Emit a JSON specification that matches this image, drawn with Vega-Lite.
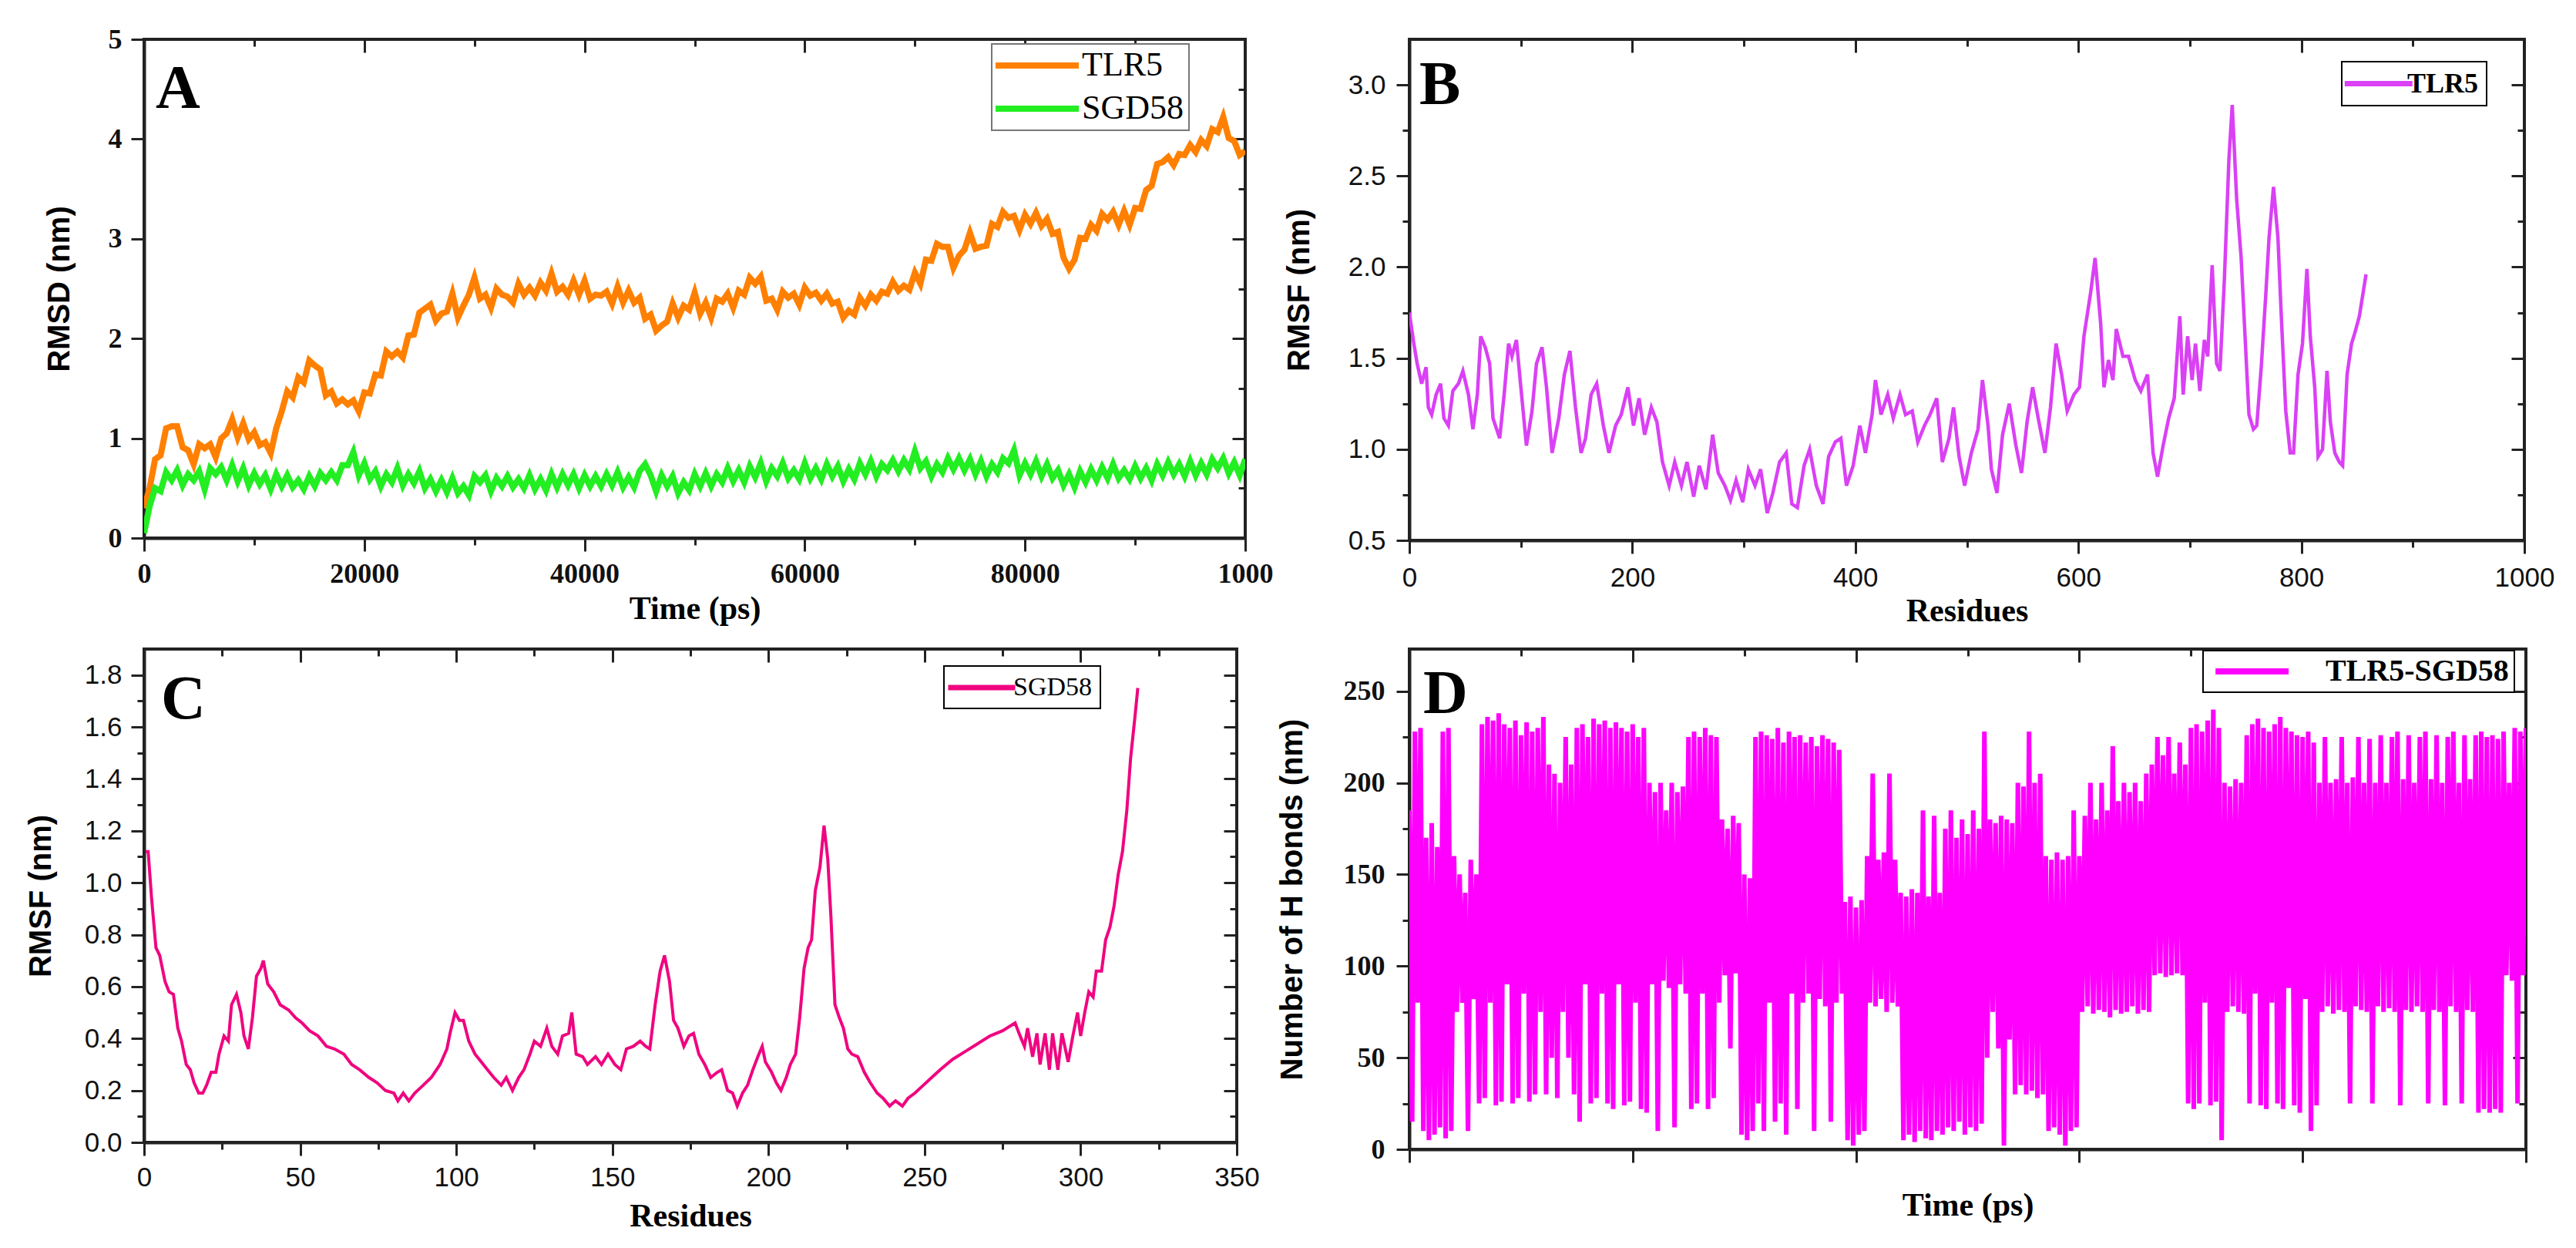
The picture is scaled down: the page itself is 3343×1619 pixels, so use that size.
{
  "$schema": "https://vega.github.io/schema/vega-lite/v6.json",
  "background": "white",
  "padding": {"left": 31, "top": 31, "right": 0, "bottom": 0},
  "datasets": {
    "one": [{"k": 1}],
    "rmsd": [
      {"t":0,"TLR5":0.30,"SGD58":0.05},{"t":500,"TLR5":0.50,"SGD58":0.32},{"t":1000,"TLR5":0.79,"SGD58":0.50},{"t":1500,"TLR5":0.83,"SGD58":0.47},
      {"t":2000,"TLR5":1.10,"SGD58":0.66},{"t":2500,"TLR5":1.12,"SGD58":0.58},{"t":3000,"TLR5":1.12,"SGD58":0.68},{"t":3500,"TLR5":0.91,"SGD58":0.53},
      {"t":4000,"TLR5":0.88,"SGD58":0.64},{"t":4500,"TLR5":0.74,"SGD58":0.58},{"t":5000,"TLR5":0.94,"SGD58":0.67},{"t":5500,"TLR5":0.90,"SGD58":0.49},
      {"t":6000,"TLR5":0.94,"SGD58":0.70},{"t":6500,"TLR5":0.81,"SGD58":0.64},{"t":7000,"TLR5":1.00,"SGD58":0.71},{"t":7500,"TLR5":1.05,"SGD58":0.58},
      {"t":8000,"TLR5":1.19,"SGD58":0.73},{"t":8500,"TLR5":1.01,"SGD58":0.57},{"t":9000,"TLR5":1.15,"SGD58":0.70},{"t":9500,"TLR5":0.99,"SGD58":0.53},
      {"t":10000,"TLR5":1.06,"SGD58":0.65},{"t":10500,"TLR5":0.93,"SGD58":0.54},{"t":11000,"TLR5":0.96,"SGD58":0.63},{"t":11500,"TLR5":0.85,"SGD58":0.49},
      {"t":12000,"TLR5":1.10,"SGD58":0.64},{"t":12500,"TLR5":1.27,"SGD58":0.52},{"t":13000,"TLR5":1.47,"SGD58":0.63},{"t":13500,"TLR5":1.41,"SGD58":0.51},
      {"t":14000,"TLR5":1.61,"SGD58":0.58},{"t":14500,"TLR5":1.56,"SGD58":0.49},{"t":15000,"TLR5":1.78,"SGD58":0.62},{"t":15500,"TLR5":1.73,"SGD58":0.52},
      {"t":16000,"TLR5":1.69,"SGD58":0.65},{"t":16500,"TLR5":1.43,"SGD58":0.58},{"t":17000,"TLR5":1.47,"SGD58":0.66},{"t":17500,"TLR5":1.35,"SGD58":0.58},
      {"t":18000,"TLR5":1.39,"SGD58":0.73},{"t":18500,"TLR5":1.34,"SGD58":0.73},{"t":19000,"TLR5":1.38,"SGD58":0.86},{"t":19500,"TLR5":1.27,"SGD58":0.63},
      {"t":20000,"TLR5":1.46,"SGD58":0.75},{"t":20500,"TLR5":1.45,"SGD58":0.59},{"t":21000,"TLR5":1.64,"SGD58":0.67},{"t":21500,"TLR5":1.63,"SGD58":0.52},
      {"t":22000,"TLR5":1.87,"SGD58":0.64},{"t":22500,"TLR5":1.82,"SGD58":0.56},{"t":23000,"TLR5":1.87,"SGD58":0.70},{"t":23500,"TLR5":1.81,"SGD58":0.53},
      {"t":24000,"TLR5":2.03,"SGD58":0.64},{"t":24500,"TLR5":2.04,"SGD58":0.55},{"t":25000,"TLR5":2.26,"SGD58":0.67},{"t":25500,"TLR5":2.30,"SGD58":0.50},
      {"t":26000,"TLR5":2.34,"SGD58":0.59},{"t":26500,"TLR5":2.18,"SGD58":0.47},{"t":27000,"TLR5":2.25,"SGD58":0.58},{"t":27500,"TLR5":2.27,"SGD58":0.46},
      {"t":28000,"TLR5":2.45,"SGD58":0.60},{"t":28500,"TLR5":2.21,"SGD58":0.45},{"t":29000,"TLR5":2.33,"SGD58":0.52},{"t":29500,"TLR5":2.44,"SGD58":0.43},
      {"t":30000,"TLR5":2.61,"SGD58":0.62},{"t":30500,"TLR5":2.40,"SGD58":0.56},{"t":31000,"TLR5":2.44,"SGD58":0.63},{"t":31500,"TLR5":2.31,"SGD58":0.47},
      {"t":32000,"TLR5":2.50,"SGD58":0.60},{"t":32500,"TLR5":2.44,"SGD58":0.52},{"t":33000,"TLR5":2.42,"SGD58":0.62},{"t":33500,"TLR5":2.36,"SGD58":0.51},
      {"t":34000,"TLR5":2.55,"SGD58":0.59},{"t":34500,"TLR5":2.44,"SGD58":0.50},{"t":35000,"TLR5":2.51,"SGD58":0.63},{"t":35500,"TLR5":2.43,"SGD58":0.49},
      {"t":36000,"TLR5":2.56,"SGD58":0.59},{"t":36500,"TLR5":2.48,"SGD58":0.48},{"t":37000,"TLR5":2.65,"SGD58":0.64},{"t":37500,"TLR5":2.47,"SGD58":0.51},
      {"t":38000,"TLR5":2.52,"SGD58":0.64},{"t":38500,"TLR5":2.44,"SGD58":0.53},{"t":39000,"TLR5":2.58,"SGD58":0.64},{"t":39500,"TLR5":2.44,"SGD58":0.50},
      {"t":40000,"TLR5":2.58,"SGD58":0.63},{"t":40500,"TLR5":2.40,"SGD58":0.52},{"t":41000,"TLR5":2.44,"SGD58":0.62},{"t":41500,"TLR5":2.43,"SGD58":0.52},
      {"t":42000,"TLR5":2.47,"SGD58":0.64},{"t":42500,"TLR5":2.35,"SGD58":0.53},{"t":43000,"TLR5":2.52,"SGD58":0.66},{"t":43500,"TLR5":2.36,"SGD58":0.51},
      {"t":44000,"TLR5":2.48,"SGD58":0.61},{"t":44500,"TLR5":2.36,"SGD58":0.51},{"t":45000,"TLR5":2.41,"SGD58":0.67},{"t":45500,"TLR5":2.20,"SGD58":0.74},
      {"t":46000,"TLR5":2.24,"SGD58":0.63},{"t":46500,"TLR5":2.08,"SGD58":0.47},{"t":47000,"TLR5":2.13,"SGD58":0.63},{"t":47500,"TLR5":2.17,"SGD58":0.52},
      {"t":48000,"TLR5":2.35,"SGD58":0.62},{"t":48500,"TLR5":2.21,"SGD58":0.45},{"t":49000,"TLR5":2.33,"SGD58":0.56},{"t":49500,"TLR5":2.29,"SGD58":0.48},
      {"t":50000,"TLR5":2.46,"SGD58":0.64},{"t":50500,"TLR5":2.25,"SGD58":0.52},{"t":51000,"TLR5":2.36,"SGD58":0.65},{"t":51500,"TLR5":2.21,"SGD58":0.52},
      {"t":52000,"TLR5":2.40,"SGD58":0.64},{"t":52500,"TLR5":2.37,"SGD58":0.56},{"t":53000,"TLR5":2.45,"SGD58":0.70},{"t":53500,"TLR5":2.31,"SGD58":0.57},
      {"t":54000,"TLR5":2.48,"SGD58":0.68},{"t":54500,"TLR5":2.44,"SGD58":0.56},{"t":55000,"TLR5":2.61,"SGD58":0.72},{"t":55500,"TLR5":2.55,"SGD58":0.61},
      {"t":56000,"TLR5":2.62,"SGD58":0.75},{"t":56500,"TLR5":2.38,"SGD58":0.57},{"t":57000,"TLR5":2.40,"SGD58":0.70},{"t":57500,"TLR5":2.29,"SGD58":0.62},
      {"t":58000,"TLR5":2.47,"SGD58":0.75},{"t":58500,"TLR5":2.41,"SGD58":0.60},{"t":59000,"TLR5":2.45,"SGD58":0.68},{"t":59500,"TLR5":2.34,"SGD58":0.59},
      {"t":60000,"TLR5":2.51,"SGD58":0.75},{"t":60500,"TLR5":2.43,"SGD58":0.60},{"t":61000,"TLR5":2.46,"SGD58":0.70},{"t":61500,"TLR5":2.38,"SGD58":0.59},
      {"t":62000,"TLR5":2.45,"SGD58":0.74},{"t":62500,"TLR5":2.35,"SGD58":0.62},{"t":63000,"TLR5":2.37,"SGD58":0.72},{"t":63500,"TLR5":2.21,"SGD58":0.57},
      {"t":64000,"TLR5":2.28,"SGD58":0.69},{"t":64500,"TLR5":2.24,"SGD58":0.59},{"t":65000,"TLR5":2.41,"SGD58":0.75},{"t":65500,"TLR5":2.33,"SGD58":0.64},
      {"t":66000,"TLR5":2.44,"SGD58":0.77},{"t":66500,"TLR5":2.38,"SGD58":0.62},{"t":67000,"TLR5":2.47,"SGD58":0.74},{"t":67500,"TLR5":2.45,"SGD58":0.68},
      {"t":68000,"TLR5":2.57,"SGD58":0.78},{"t":68500,"TLR5":2.48,"SGD58":0.67},{"t":69000,"TLR5":2.53,"SGD58":0.78},{"t":69500,"TLR5":2.49,"SGD58":0.69},
      {"t":70000,"TLR5":2.66,"SGD58":0.87},{"t":70500,"TLR5":2.55,"SGD58":0.70},{"t":71000,"TLR5":2.79,"SGD58":0.77},{"t":71500,"TLR5":2.78,"SGD58":0.62},
      {"t":72000,"TLR5":2.95,"SGD58":0.74},{"t":72500,"TLR5":2.92,"SGD58":0.66},{"t":73000,"TLR5":2.92,"SGD58":0.80},{"t":73500,"TLR5":2.71,"SGD58":0.69},
      {"t":74000,"TLR5":2.83,"SGD58":0.80},{"t":74500,"TLR5":2.89,"SGD58":0.68},{"t":75000,"TLR5":3.06,"SGD58":0.79},{"t":75500,"TLR5":2.90,"SGD58":0.64},
      {"t":76000,"TLR5":2.92,"SGD58":0.77},{"t":76500,"TLR5":2.93,"SGD58":0.62},{"t":77000,"TLR5":3.15,"SGD58":0.74},{"t":77500,"TLR5":3.12,"SGD58":0.66},
      {"t":78000,"TLR5":3.27,"SGD58":0.80},{"t":78500,"TLR5":3.21,"SGD58":0.75},{"t":79000,"TLR5":3.23,"SGD58":0.88},{"t":79500,"TLR5":3.09,"SGD58":0.63},
      {"t":80000,"TLR5":3.24,"SGD58":0.75},{"t":80500,"TLR5":3.15,"SGD58":0.64},{"t":81000,"TLR5":3.26,"SGD58":0.77},{"t":81500,"TLR5":3.13,"SGD58":0.62},
      {"t":82000,"TLR5":3.20,"SGD58":0.74},{"t":82500,"TLR5":3.05,"SGD58":0.60},{"t":83000,"TLR5":3.07,"SGD58":0.68},{"t":83500,"TLR5":2.81,"SGD58":0.53},
      {"t":84000,"TLR5":2.70,"SGD58":0.64},{"t":84500,"TLR5":2.79,"SGD58":0.51},{"t":85000,"TLR5":3.01,"SGD58":0.67},{"t":85500,"TLR5":3.00,"SGD58":0.56},
      {"t":86000,"TLR5":3.14,"SGD58":0.69},{"t":86500,"TLR5":3.08,"SGD58":0.58},{"t":87000,"TLR5":3.25,"SGD58":0.71},{"t":87500,"TLR5":3.19,"SGD58":0.60},
      {"t":88000,"TLR5":3.27,"SGD58":0.74},{"t":88500,"TLR5":3.14,"SGD58":0.60},{"t":89000,"TLR5":3.28,"SGD58":0.68},{"t":89500,"TLR5":3.14,"SGD58":0.59},
      {"t":90000,"TLR5":3.31,"SGD58":0.72},{"t":90500,"TLR5":3.30,"SGD58":0.60},{"t":91000,"TLR5":3.49,"SGD58":0.70},{"t":91500,"TLR5":3.53,"SGD58":0.58},
      {"t":92000,"TLR5":3.75,"SGD58":0.74},{"t":92500,"TLR5":3.77,"SGD58":0.63},{"t":93000,"TLR5":3.82,"SGD58":0.76},{"t":93500,"TLR5":3.74,"SGD58":0.64},
      {"t":94000,"TLR5":3.85,"SGD58":0.74},{"t":94500,"TLR5":3.84,"SGD58":0.62},{"t":95000,"TLR5":3.94,"SGD58":0.77},{"t":95500,"TLR5":3.87,"SGD58":0.63},
      {"t":96000,"TLR5":3.99,"SGD58":0.75},{"t":96500,"TLR5":3.93,"SGD58":0.64},{"t":97000,"TLR5":4.10,"SGD58":0.79},{"t":97500,"TLR5":4.07,"SGD58":0.70},
      {"t":98000,"TLR5":4.22,"SGD58":0.80},{"t":98500,"TLR5":4.01,"SGD58":0.65},{"t":99000,"TLR5":3.98,"SGD58":0.76},{"t":99500,"TLR5":3.84,"SGD58":0.63},
      {"t":100000,"TLR5":3.88,"SGD58":0.79}
    ],
    "rmsfTLR5": [
      {"r":0,"TLR5":1.75},{"r":4,"TLR5":1.58},{"r":7,"TLR5":1.47},{"r":11,"TLR5":1.36},{"r":15,"TLR5":1.45},{"r":17,"TLR5":1.23},{"r":20,"TLR5":1.19},{"r":24,"TLR5":1.30},
      {"r":28,"TLR5":1.36},{"r":31,"TLR5":1.17},{"r":35,"TLR5":1.13},{"r":39,"TLR5":1.32},{"r":44,"TLR5":1.36},{"r":48,"TLR5":1.43},{"r":53,"TLR5":1.30},{"r":57,"TLR5":1.11},
      {"r":61,"TLR5":1.30},{"r":64,"TLR5":1.62},{"r":68,"TLR5":1.56},{"r":72,"TLR5":1.47},{"r":75,"TLR5":1.17},{"r":81,"TLR5":1.06},{"r":85,"TLR5":1.30},{"r":89,"TLR5":1.58},
      {"r":92,"TLR5":1.51},{"r":96,"TLR5":1.60},{"r":100,"TLR5":1.34},{"r":105,"TLR5":1.02},{"r":110,"TLR5":1.21},{"r":114,"TLR5":1.47},{"r":119,"TLR5":1.56},{"r":123,"TLR5":1.34},
      {"r":128,"TLR5":0.98},{"r":134,"TLR5":1.17},{"r":139,"TLR5":1.41},{"r":144,"TLR5":1.54},{"r":149,"TLR5":1.23},{"r":154,"TLR5":0.98},{"r":158,"TLR5":1.06},{"r":163,"TLR5":1.30},
      {"r":168,"TLR5":1.36},{"r":174,"TLR5":1.13},{"r":179,"TLR5":0.98},{"r":185,"TLR5":1.13},{"r":190,"TLR5":1.19},{"r":196,"TLR5":1.34},{"r":201,"TLR5":1.13},{"r":206,"TLR5":1.28},
      {"r":211,"TLR5":1.08},{"r":217,"TLR5":1.23},{"r":222,"TLR5":1.15},{"r":227,"TLR5":0.93},{"r":233,"TLR5":0.80},{"r":238,"TLR5":0.93},{"r":244,"TLR5":0.80},{"r":249,"TLR5":0.93},
      {"r":255,"TLR5":0.74},{"r":260,"TLR5":0.91},{"r":266,"TLR5":0.78},{"r":272,"TLR5":1.08},{"r":277,"TLR5":0.87},{"r":283,"TLR5":0.80},{"r":288,"TLR5":0.72},{"r":293,"TLR5":0.83},
      {"r":299,"TLR5":0.71},{"r":304,"TLR5":0.89},{"r":310,"TLR5":0.80},{"r":315,"TLR5":0.89},{"r":321,"TLR5":0.65},{"r":326,"TLR5":0.76},{"r":332,"TLR5":0.93},{"r":338,"TLR5":0.98},
      {"r":343,"TLR5":0.70},{"r":348,"TLR5":0.68},{"r":354,"TLR5":0.91},{"r":359,"TLR5":1.00},{"r":365,"TLR5":0.80},{"r":371,"TLR5":0.70},{"r":376,"TLR5":0.96},{"r":382,"TLR5":1.04},
      {"r":387,"TLR5":1.06},{"r":392,"TLR5":0.80},{"r":398,"TLR5":0.91},{"r":404,"TLR5":1.13},{"r":409,"TLR5":0.98},{"r":415,"TLR5":1.19},{"r":418,"TLR5":1.38},{"r":423,"TLR5":1.19},
      {"r":429,"TLR5":1.30},{"r":434,"TLR5":1.17},{"r":440,"TLR5":1.30},{"r":445,"TLR5":1.19},{"r":451,"TLR5":1.21},{"r":456,"TLR5":1.04},{"r":462,"TLR5":1.13},{"r":467,"TLR5":1.19},
      {"r":473,"TLR5":1.28},{"r":478,"TLR5":0.93},{"r":484,"TLR5":1.06},{"r":488,"TLR5":1.23},{"r":493,"TLR5":0.96},{"r":498,"TLR5":0.80},{"r":504,"TLR5":0.98},{"r":510,"TLR5":1.11},
      {"r":514,"TLR5":1.38},{"r":519,"TLR5":1.13},{"r":522,"TLR5":0.89},{"r":527,"TLR5":0.76},{"r":532,"TLR5":1.08},{"r":538,"TLR5":1.25},{"r":544,"TLR5":1.02},{"r":549,"TLR5":0.87},
      {"r":554,"TLR5":1.15},{"r":559,"TLR5":1.34},{"r":564,"TLR5":1.17},{"r":570,"TLR5":0.98},{"r":575,"TLR5":1.23},{"r":580,"TLR5":1.58},{"r":585,"TLR5":1.41},{"r":590,"TLR5":1.21},
      {"r":596,"TLR5":1.30},{"r":601,"TLR5":1.34},{"r":605,"TLR5":1.62},{"r":611,"TLR5":1.86},{"r":615,"TLR5":2.05},{"r":620,"TLR5":1.69},{"r":623,"TLR5":1.34},{"r":627,"TLR5":1.49},
      {"r":631,"TLR5":1.38},{"r":634,"TLR5":1.66},{"r":640,"TLR5":1.51},{"r":645,"TLR5":1.51},{"r":651,"TLR5":1.38},{"r":656,"TLR5":1.32},{"r":662,"TLR5":1.41},{"r":667,"TLR5":0.98},
      {"r":671,"TLR5":0.85},{"r":676,"TLR5":1.02},{"r":681,"TLR5":1.17},{"r":686,"TLR5":1.28},{"r":691,"TLR5":1.73},{"r":694,"TLR5":1.30},{"r":698,"TLR5":1.62},{"r":702,"TLR5":1.38},
      {"r":705,"TLR5":1.58},{"r":709,"TLR5":1.32},{"r":713,"TLR5":1.60},{"r":716,"TLR5":1.51},{"r":720,"TLR5":2.01},{"r":724,"TLR5":1.47},{"r":727,"TLR5":1.43},{"r":731,"TLR5":1.94},
      {"r":735,"TLR5":2.59},{"r":738,"TLR5":2.89},{"r":742,"TLR5":2.37},{"r":746,"TLR5":2.05},{"r":749,"TLR5":1.68},{"r":753,"TLR5":1.19},{"r":757,"TLR5":1.11},{"r":760,"TLR5":1.13},
      {"r":764,"TLR5":1.45},{"r":768,"TLR5":1.84},{"r":771,"TLR5":2.16},{"r":775,"TLR5":2.44},{"r":779,"TLR5":2.16},{"r":782,"TLR5":1.73},{"r":786,"TLR5":1.21},{"r":790,"TLR5":0.98},
      {"r":793,"TLR5":0.98},{"r":797,"TLR5":1.41},{"r":801,"TLR5":1.58},{"r":805,"TLR5":1.99},{"r":808,"TLR5":1.62},{"r":812,"TLR5":1.34},{"r":815,"TLR5":0.96},{"r":819,"TLR5":1.00},
      {"r":823,"TLR5":1.43},{"r":826,"TLR5":1.15},{"r":830,"TLR5":0.98},{"r":834,"TLR5":0.93},{"r":837,"TLR5":0.91},{"r":841,"TLR5":1.41},{"r":845,"TLR5":1.58},{"r":848,"TLR5":1.64},
      {"r":852,"TLR5":1.73},{"r":858,"TLR5":1.96}
    ],
    "rmsfSGD58": [
      {"r":0.5,"SGD58":1.12},{"r":1.3,"SGD58":1.12},{"r":2.4,"SGD58":0.94},{"r":3.8,"SGD58":0.75},{"r":5,"SGD58":0.72},{"r":6.7,"SGD58":0.62},{"r":8,"SGD58":0.58},{"r":9.4,"SGD58":0.57},
      {"r":10.8,"SGD58":0.44},{"r":12,"SGD58":0.39},{"r":13.5,"SGD58":0.30},{"r":14.8,"SGD58":0.28},{"r":16,"SGD58":0.23},{"r":17.5,"SGD58":0.19},{"r":18.8,"SGD58":0.19},{"r":20,"SGD58":0.22},
      {"r":21.5,"SGD58":0.27},{"r":23,"SGD58":0.27},{"r":24,"SGD58":0.34},{"r":25.6,"SGD58":0.41},{"r":27,"SGD58":0.39},{"r":28,"SGD58":0.53},{"r":29.6,"SGD58":0.57},{"r":31,"SGD58":0.50},
      {"r":32,"SGD58":0.41},{"r":33.4,"SGD58":0.36},{"r":34.7,"SGD58":0.48},{"r":36,"SGD58":0.64},{"r":37.4,"SGD58":0.67},{"r":38.2,"SGD58":0.70},{"r":39.6,"SGD58":0.61},{"r":41.5,"SGD58":0.58},
      {"r":43.6,"SGD58":0.53},{"r":46.3,"SGD58":0.51},{"r":48.5,"SGD58":0.48},{"r":50.6,"SGD58":0.46},{"r":53,"SGD58":0.43},{"r":55.7,"SGD58":0.41},{"r":58.4,"SGD58":0.37},{"r":61,"SGD58":0.36},
      {"r":64,"SGD58":0.34},{"r":66.5,"SGD58":0.30},{"r":69,"SGD58":0.28},{"r":72,"SGD58":0.25},{"r":74.6,"SGD58":0.23},{"r":77.3,"SGD58":0.20},{"r":80,"SGD58":0.19},{"r":81.3,"SGD58":0.16},
      {"r":83,"SGD58":0.19},{"r":84.8,"SGD58":0.16},{"r":86.7,"SGD58":0.19},{"r":89.4,"SGD58":0.22},{"r":92,"SGD58":0.25},{"r":94.8,"SGD58":0.30},{"r":97,"SGD58":0.36},{"r":98,"SGD58":0.42},
      {"r":99.6,"SGD58":0.50},{"r":101,"SGD58":0.47},{"r":102.3,"SGD58":0.47},{"r":104,"SGD58":0.39},{"r":106,"SGD58":0.34},{"r":108,"SGD58":0.31},{"r":110,"SGD58":0.28},{"r":112,"SGD58":0.25},
      {"r":114.4,"SGD58":0.22},{"r":116,"SGD58":0.25},{"r":118,"SGD58":0.20},{"r":120,"SGD58":0.25},{"r":121.7,"SGD58":0.28},{"r":123.6,"SGD58":0.34},{"r":125,"SGD58":0.39},{"r":127,"SGD58":0.37},
      {"r":129,"SGD58":0.44},{"r":130.6,"SGD58":0.37},{"r":132.5,"SGD58":0.34},{"r":134,"SGD58":0.41},{"r":136,"SGD58":0.42},{"r":137,"SGD58":0.50},{"r":138.4,"SGD58":0.34},{"r":140.5,"SGD58":0.33},
      {"r":142,"SGD58":0.30},{"r":144.6,"SGD58":0.33},{"r":146.5,"SGD58":0.30},{"r":148.6,"SGD58":0.34},{"r":150.8,"SGD58":0.30},{"r":152.7,"SGD58":0.28},{"r":154.5,"SGD58":0.36},{"r":156.7,"SGD58":0.37},
      {"r":158.9,"SGD58":0.39},{"r":160.7,"SGD58":0.37},{"r":162,"SGD58":0.36},{"r":163.7,"SGD58":0.53},{"r":165.3,"SGD58":0.66},{"r":166.7,"SGD58":0.72},{"r":168.3,"SGD58":0.62},{"r":169.6,"SGD58":0.47},
      {"r":171,"SGD58":0.44},{"r":172.9,"SGD58":0.37},{"r":174.5,"SGD58":0.41},{"r":176,"SGD58":0.42},{"r":177.7,"SGD58":0.34},{"r":179.6,"SGD58":0.30},{"r":181.5,"SGD58":0.25},{"r":183.6,"SGD58":0.27},
      {"r":185,"SGD58":0.28},{"r":186.9,"SGD58":0.20},{"r":188.5,"SGD58":0.19},{"r":190,"SGD58":0.14},{"r":191.7,"SGD58":0.19},{"r":193.3,"SGD58":0.22},{"r":195,"SGD58":0.28},{"r":196.6,"SGD58":0.33},
      {"r":198,"SGD58":0.37},{"r":199,"SGD58":0.31},{"r":201,"SGD58":0.27},{"r":202.5,"SGD58":0.23},{"r":204,"SGD58":0.20},{"r":205.7,"SGD58":0.25},{"r":207,"SGD58":0.30},{"r":208.7,"SGD58":0.34},
      {"r":210,"SGD58":0.48},{"r":211.4,"SGD58":0.67},{"r":212.7,"SGD58":0.75},{"r":213.8,"SGD58":0.78},{"r":215,"SGD58":0.97},{"r":216.5,"SGD58":1.06},{"r":217.8,"SGD58":1.22},{"r":219,"SGD58":1.09},
      {"r":220,"SGD58":0.87},{"r":221.3,"SGD58":0.53},{"r":222.7,"SGD58":0.48},{"r":224,"SGD58":0.44},{"r":225.4,"SGD58":0.36},{"r":226.7,"SGD58":0.34},{"r":228.6,"SGD58":0.33},{"r":230.7,"SGD58":0.27},
      {"r":232.6,"SGD58":0.23},{"r":234.8,"SGD58":0.19},{"r":236.7,"SGD58":0.17},{"r":238.8,"SGD58":0.14},{"r":240.7,"SGD58":0.16},{"r":242.9,"SGD58":0.14},{"r":244.7,"SGD58":0.17},{"r":246.9,"SGD58":0.19},
      {"r":249.6,"SGD58":0.22},{"r":252.3,"SGD58":0.25},{"r":255,"SGD58":0.28},{"r":259,"SGD58":0.32},{"r":263,"SGD58":0.35},{"r":267,"SGD58":0.38},{"r":271,"SGD58":0.41},{"r":275,"SGD58":0.43},
      {"r":279,"SGD58":0.46},{"r":280.6,"SGD58":0.41},{"r":282,"SGD58":0.37},{"r":283,"SGD58":0.44},{"r":284.6,"SGD58":0.33},{"r":286,"SGD58":0.42},{"r":287,"SGD58":0.30},{"r":288.6,"SGD58":0.42},
      {"r":290,"SGD58":0.28},{"r":291,"SGD58":0.42},{"r":292.7,"SGD58":0.28},{"r":294,"SGD58":0.42},{"r":296,"SGD58":0.31},{"r":297.5,"SGD58":0.41},{"r":299,"SGD58":0.50},{"r":300,"SGD58":0.41},
      {"r":301.3,"SGD58":0.50},{"r":302.6,"SGD58":0.58},{"r":304,"SGD58":0.56},{"r":305,"SGD58":0.66},{"r":306.7,"SGD58":0.66},{"r":308,"SGD58":0.78},{"r":309.4,"SGD58":0.83},{"r":310.7,"SGD58":0.91},
      {"r":312,"SGD58":1.03},{"r":313.4,"SGD58":1.12},{"r":314.8,"SGD58":1.28},{"r":316,"SGD58":1.48},{"r":317.4,"SGD58":1.64},{"r":318.3,"SGD58":1.75}
    ],
    "hbonds": [
      {"t":0,"TLR5-SGD58":185},{"t":250,"TLR5-SGD58":15},{"t":500,"TLR5-SGD58":228},{"t":750,"TLR5-SGD58":80},{"t":1000,"TLR5-SGD58":230},{"t":1250,"TLR5-SGD58":10},{"t":1500,"TLR5-SGD58":170},{"t":1750,"TLR5-SGD58":5},
      {"t":2000,"TLR5-SGD58":178},{"t":2250,"TLR5-SGD58":8},{"t":2500,"TLR5-SGD58":165},{"t":2750,"TLR5-SGD58":12},{"t":3000,"TLR5-SGD58":228},{"t":3250,"TLR5-SGD58":6},{"t":3500,"TLR5-SGD58":230},{"t":3750,"TLR5-SGD58":10},
      {"t":4000,"TLR5-SGD58":160},{"t":4250,"TLR5-SGD58":75},{"t":4500,"TLR5-SGD58":150},{"t":4750,"TLR5-SGD58":80},{"t":5000,"TLR5-SGD58":140},{"t":5250,"TLR5-SGD58":10},{"t":5500,"TLR5-SGD58":158},{"t":5750,"TLR5-SGD58":82},
      {"t":6000,"TLR5-SGD58":150},{"t":6250,"TLR5-SGD58":25},{"t":6500,"TLR5-SGD58":232},{"t":6750,"TLR5-SGD58":28},{"t":7000,"TLR5-SGD58":236},{"t":7250,"TLR5-SGD58":80},{"t":7500,"TLR5-SGD58":234},{"t":7750,"TLR5-SGD58":24},
      {"t":8000,"TLR5-SGD58":238},{"t":8250,"TLR5-SGD58":26},{"t":8500,"TLR5-SGD58":232},{"t":8750,"TLR5-SGD58":90},{"t":9000,"TLR5-SGD58":230},{"t":9250,"TLR5-SGD58":25},{"t":9500,"TLR5-SGD58":234},{"t":9750,"TLR5-SGD58":28},
      {"t":10000,"TLR5-SGD58":226},{"t":10250,"TLR5-SGD58":85},{"t":10500,"TLR5-SGD58":233},{"t":10750,"TLR5-SGD58":26},{"t":11000,"TLR5-SGD58":228},{"t":11250,"TLR5-SGD58":30},{"t":11500,"TLR5-SGD58":230},{"t":11750,"TLR5-SGD58":75},
      {"t":12000,"TLR5-SGD58":236},{"t":12250,"TLR5-SGD58":30},{"t":12500,"TLR5-SGD58":210},{"t":12750,"TLR5-SGD58":50},{"t":13000,"TLR5-SGD58":205},{"t":13250,"TLR5-SGD58":28},{"t":13500,"TLR5-SGD58":200},{"t":13750,"TLR5-SGD58":75},
      {"t":14000,"TLR5-SGD58":225},{"t":14250,"TLR5-SGD58":50},{"t":14500,"TLR5-SGD58":210},{"t":14750,"TLR5-SGD58":30},{"t":15000,"TLR5-SGD58":230},{"t":15250,"TLR5-SGD58":15},{"t":15500,"TLR5-SGD58":232},{"t":15750,"TLR5-SGD58":90},
      {"t":16000,"TLR5-SGD58":225},{"t":16250,"TLR5-SGD58":25},{"t":16500,"TLR5-SGD58":235},{"t":16750,"TLR5-SGD58":28},{"t":17000,"TLR5-SGD58":232},{"t":17250,"TLR5-SGD58":85},{"t":17500,"TLR5-SGD58":234},{"t":17750,"TLR5-SGD58":25},
      {"t":18000,"TLR5-SGD58":230},{"t":18250,"TLR5-SGD58":22},{"t":18500,"TLR5-SGD58":233},{"t":18750,"TLR5-SGD58":90},{"t":19000,"TLR5-SGD58":230},{"t":19250,"TLR5-SGD58":24},{"t":19500,"TLR5-SGD58":228},{"t":19750,"TLR5-SGD58":26},
      {"t":20000,"TLR5-SGD58":232},{"t":20250,"TLR5-SGD58":80},{"t":20500,"TLR5-SGD58":225},{"t":20750,"TLR5-SGD58":22},{"t":21000,"TLR5-SGD58":230},{"t":21250,"TLR5-SGD58":20},{"t":21500,"TLR5-SGD58":200},{"t":21750,"TLR5-SGD58":90},
      {"t":22000,"TLR5-SGD58":195},{"t":22250,"TLR5-SGD58":10},{"t":22500,"TLR5-SGD58":200},{"t":22750,"TLR5-SGD58":92},{"t":23000,"TLR5-SGD58":185},{"t":23250,"TLR5-SGD58":88},{"t":23500,"TLR5-SGD58":200},{"t":23750,"TLR5-SGD58":12},
      {"t":24000,"TLR5-SGD58":195},{"t":24250,"TLR5-SGD58":90},{"t":24500,"TLR5-SGD58":198},{"t":24750,"TLR5-SGD58":85},{"t":25000,"TLR5-SGD58":225},{"t":25250,"TLR5-SGD58":22},{"t":25500,"TLR5-SGD58":228},{"t":25750,"TLR5-SGD58":25},
      {"t":26000,"TLR5-SGD58":225},{"t":26250,"TLR5-SGD58":85},{"t":26500,"TLR5-SGD58":230},{"t":26750,"TLR5-SGD58":22},{"t":27000,"TLR5-SGD58":226},{"t":27250,"TLR5-SGD58":28},{"t":27500,"TLR5-SGD58":225},{"t":27750,"TLR5-SGD58":80},
      {"t":28000,"TLR5-SGD58":180},{"t":28250,"TLR5-SGD58":95},{"t":28500,"TLR5-SGD58":175},{"t":28750,"TLR5-SGD58":55},{"t":29000,"TLR5-SGD58":182},{"t":29250,"TLR5-SGD58":96},{"t":29500,"TLR5-SGD58":178},{"t":29750,"TLR5-SGD58":8},
      {"t":30000,"TLR5-SGD58":150},{"t":30250,"TLR5-SGD58":5},{"t":30500,"TLR5-SGD58":148},{"t":30750,"TLR5-SGD58":10},{"t":31000,"TLR5-SGD58":225},{"t":31250,"TLR5-SGD58":25},{"t":31500,"TLR5-SGD58":228},{"t":31750,"TLR5-SGD58":10},
      {"t":32000,"TLR5-SGD58":226},{"t":32250,"TLR5-SGD58":80},{"t":32500,"TLR5-SGD58":224},{"t":32750,"TLR5-SGD58":15},{"t":33000,"TLR5-SGD58":230},{"t":33250,"TLR5-SGD58":25},{"t":33500,"TLR5-SGD58":222},{"t":33750,"TLR5-SGD58":8},
      {"t":34000,"TLR5-SGD58":228},{"t":34250,"TLR5-SGD58":85},{"t":34500,"TLR5-SGD58":225},{"t":34750,"TLR5-SGD58":22},{"t":35000,"TLR5-SGD58":226},{"t":35250,"TLR5-SGD58":80},{"t":35500,"TLR5-SGD58":222},{"t":35750,"TLR5-SGD58":85},
      {"t":36000,"TLR5-SGD58":225},{"t":36250,"TLR5-SGD58":10},{"t":36500,"TLR5-SGD58":220},{"t":36750,"TLR5-SGD58":82},{"t":37000,"TLR5-SGD58":226},{"t":37250,"TLR5-SGD58":78},{"t":37500,"TLR5-SGD58":224},{"t":37750,"TLR5-SGD58":15},
      {"t":38000,"TLR5-SGD58":222},{"t":38250,"TLR5-SGD58":80},{"t":38500,"TLR5-SGD58":218},{"t":38750,"TLR5-SGD58":85},{"t":39000,"TLR5-SGD58":135},{"t":39250,"TLR5-SGD58":5},{"t":39500,"TLR5-SGD58":138},{"t":39750,"TLR5-SGD58":2},
      {"t":40000,"TLR5-SGD58":132},{"t":40250,"TLR5-SGD58":8},{"t":40500,"TLR5-SGD58":136},{"t":40750,"TLR5-SGD58":10},{"t":41000,"TLR5-SGD58":160},{"t":41250,"TLR5-SGD58":80},{"t":41500,"TLR5-SGD58":205},{"t":41750,"TLR5-SGD58":78},
      {"t":42000,"TLR5-SGD58":158},{"t":42250,"TLR5-SGD58":82},{"t":42500,"TLR5-SGD58":162},{"t":42750,"TLR5-SGD58":75},{"t":43000,"TLR5-SGD58":205},{"t":43250,"TLR5-SGD58":80},{"t":43500,"TLR5-SGD58":158},{"t":43750,"TLR5-SGD58":78},
      {"t":44000,"TLR5-SGD58":140},{"t":44250,"TLR5-SGD58":5},{"t":44500,"TLR5-SGD58":138},{"t":44750,"TLR5-SGD58":8},{"t":45000,"TLR5-SGD58":142},{"t":45250,"TLR5-SGD58":4},{"t":45500,"TLR5-SGD58":140},{"t":45750,"TLR5-SGD58":10},
      {"t":46000,"TLR5-SGD58":185},{"t":46250,"TLR5-SGD58":6},{"t":46500,"TLR5-SGD58":138},{"t":46750,"TLR5-SGD58":5},{"t":47000,"TLR5-SGD58":182},{"t":47250,"TLR5-SGD58":10},{"t":47500,"TLR5-SGD58":140},{"t":47750,"TLR5-SGD58":8},
      {"t":48000,"TLR5-SGD58":175},{"t":48250,"TLR5-SGD58":12},{"t":48500,"TLR5-SGD58":185},{"t":48750,"TLR5-SGD58":10},{"t":49000,"TLR5-SGD58":170},{"t":49250,"TLR5-SGD58":15},{"t":49500,"TLR5-SGD58":180},{"t":49750,"TLR5-SGD58":8},
      {"t":50000,"TLR5-SGD58":172},{"t":50250,"TLR5-SGD58":12},{"t":50500,"TLR5-SGD58":185},{"t":50750,"TLR5-SGD58":10},{"t":51000,"TLR5-SGD58":175},{"t":51250,"TLR5-SGD58":14},{"t":51500,"TLR5-SGD58":228},{"t":51750,"TLR5-SGD58":50},
      {"t":52000,"TLR5-SGD58":180},{"t":52250,"TLR5-SGD58":75},{"t":52500,"TLR5-SGD58":178},{"t":52750,"TLR5-SGD58":55},{"t":53000,"TLR5-SGD58":182},{"t":53250,"TLR5-SGD58":2},{"t":53500,"TLR5-SGD58":180},{"t":53750,"TLR5-SGD58":60},
      {"t":54000,"TLR5-SGD58":178},{"t":54250,"TLR5-SGD58":30},{"t":54500,"TLR5-SGD58":200},{"t":54750,"TLR5-SGD58":35},{"t":55000,"TLR5-SGD58":198},{"t":55250,"TLR5-SGD58":30},{"t":55500,"TLR5-SGD58":228},{"t":55750,"TLR5-SGD58":32},
      {"t":56000,"TLR5-SGD58":200},{"t":56250,"TLR5-SGD58":28},{"t":56500,"TLR5-SGD58":205},{"t":56750,"TLR5-SGD58":30},{"t":57000,"TLR5-SGD58":160},{"t":57250,"TLR5-SGD58":10},{"t":57500,"TLR5-SGD58":158},{"t":57750,"TLR5-SGD58":12},
      {"t":58000,"TLR5-SGD58":162},{"t":58250,"TLR5-SGD58":8},{"t":58500,"TLR5-SGD58":158},{"t":58750,"TLR5-SGD58":2},{"t":59000,"TLR5-SGD58":160},{"t":59250,"TLR5-SGD58":10},{"t":59500,"TLR5-SGD58":185},{"t":59750,"TLR5-SGD58":12},
      {"t":60000,"TLR5-SGD58":160},{"t":60250,"TLR5-SGD58":75},{"t":60500,"TLR5-SGD58":182},{"t":60750,"TLR5-SGD58":78},{"t":61000,"TLR5-SGD58":200},{"t":61250,"TLR5-SGD58":74},{"t":61500,"TLR5-SGD58":180},{"t":61750,"TLR5-SGD58":76},
      {"t":62000,"TLR5-SGD58":200},{"t":62250,"TLR5-SGD58":75},{"t":62500,"TLR5-SGD58":185},{"t":62750,"TLR5-SGD58":72},{"t":63000,"TLR5-SGD58":220},{"t":63250,"TLR5-SGD58":76},{"t":63500,"TLR5-SGD58":190},{"t":63750,"TLR5-SGD58":74},
      {"t":64000,"TLR5-SGD58":200},{"t":64250,"TLR5-SGD58":75},{"t":64500,"TLR5-SGD58":195},{"t":64750,"TLR5-SGD58":78},{"t":65000,"TLR5-SGD58":200},{"t":65250,"TLR5-SGD58":74},{"t":65500,"TLR5-SGD58":190},{"t":65750,"TLR5-SGD58":76},
      {"t":66000,"TLR5-SGD58":205},{"t":66250,"TLR5-SGD58":75},{"t":66500,"TLR5-SGD58":210},{"t":66750,"TLR5-SGD58":95},{"t":67000,"TLR5-SGD58":225},{"t":67250,"TLR5-SGD58":96},{"t":67500,"TLR5-SGD58":215},{"t":67750,"TLR5-SGD58":94},
      {"t":68000,"TLR5-SGD58":225},{"t":68250,"TLR5-SGD58":95},{"t":68500,"TLR5-SGD58":205},{"t":68750,"TLR5-SGD58":96},{"t":69000,"TLR5-SGD58":222},{"t":69250,"TLR5-SGD58":95},{"t":69500,"TLR5-SGD58":210},{"t":69750,"TLR5-SGD58":25},
      {"t":70000,"TLR5-SGD58":230},{"t":70250,"TLR5-SGD58":22},{"t":70500,"TLR5-SGD58":232},{"t":70750,"TLR5-SGD58":25},{"t":71000,"TLR5-SGD58":228},{"t":71250,"TLR5-SGD58":80},{"t":71500,"TLR5-SGD58":234},{"t":71750,"TLR5-SGD58":24},
      {"t":72000,"TLR5-SGD58":240},{"t":72250,"TLR5-SGD58":26},{"t":72500,"TLR5-SGD58":230},{"t":72750,"TLR5-SGD58":5},{"t":73000,"TLR5-SGD58":200},{"t":73250,"TLR5-SGD58":75},{"t":73500,"TLR5-SGD58":198},{"t":73750,"TLR5-SGD58":78},
      {"t":74000,"TLR5-SGD58":202},{"t":74250,"TLR5-SGD58":75},{"t":74500,"TLR5-SGD58":200},{"t":74750,"TLR5-SGD58":74},{"t":75000,"TLR5-SGD58":226},{"t":75250,"TLR5-SGD58":25},{"t":75500,"TLR5-SGD58":232},{"t":75750,"TLR5-SGD58":85},
      {"t":76000,"TLR5-SGD58":235},{"t":76250,"TLR5-SGD58":24},{"t":76500,"TLR5-SGD58":230},{"t":76750,"TLR5-SGD58":22},{"t":77000,"TLR5-SGD58":228},{"t":77250,"TLR5-SGD58":80},{"t":77500,"TLR5-SGD58":232},{"t":77750,"TLR5-SGD58":25},
      {"t":78000,"TLR5-SGD58":236},{"t":78250,"TLR5-SGD58":22},{"t":78500,"TLR5-SGD58":230},{"t":78750,"TLR5-SGD58":88},{"t":79000,"TLR5-SGD58":228},{"t":79250,"TLR5-SGD58":24},{"t":79500,"TLR5-SGD58":226},{"t":79750,"TLR5-SGD58":20},
      {"t":80000,"TLR5-SGD58":225},{"t":80250,"TLR5-SGD58":82},{"t":80500,"TLR5-SGD58":228},{"t":80750,"TLR5-SGD58":10},{"t":81000,"TLR5-SGD58":222},{"t":81250,"TLR5-SGD58":24},{"t":81500,"TLR5-SGD58":200},{"t":81750,"TLR5-SGD58":75},
      {"t":82000,"TLR5-SGD58":225},{"t":82250,"TLR5-SGD58":78},{"t":82500,"TLR5-SGD58":200},{"t":82750,"TLR5-SGD58":74},{"t":83000,"TLR5-SGD58":202},{"t":83250,"TLR5-SGD58":76},{"t":83500,"TLR5-SGD58":225},{"t":83750,"TLR5-SGD58":75},
      {"t":84000,"TLR5-SGD58":200},{"t":84250,"TLR5-SGD58":25},{"t":84500,"TLR5-SGD58":203},{"t":84750,"TLR5-SGD58":78},{"t":85000,"TLR5-SGD58":225},{"t":85250,"TLR5-SGD58":76},{"t":85500,"TLR5-SGD58":200},{"t":85750,"TLR5-SGD58":75},
      {"t":86000,"TLR5-SGD58":224},{"t":86250,"TLR5-SGD58":25},{"t":86500,"TLR5-SGD58":200},{"t":86750,"TLR5-SGD58":78},{"t":87000,"TLR5-SGD58":226},{"t":87250,"TLR5-SGD58":75},{"t":87500,"TLR5-SGD58":200},{"t":87750,"TLR5-SGD58":77},
      {"t":88000,"TLR5-SGD58":225},{"t":88250,"TLR5-SGD58":75},{"t":88500,"TLR5-SGD58":228},{"t":88750,"TLR5-SGD58":24},{"t":89000,"TLR5-SGD58":202},{"t":89250,"TLR5-SGD58":76},{"t":89500,"TLR5-SGD58":226},{"t":89750,"TLR5-SGD58":75},
      {"t":90000,"TLR5-SGD58":200},{"t":90250,"TLR5-SGD58":78},{"t":90500,"TLR5-SGD58":225},{"t":90750,"TLR5-SGD58":75},{"t":91000,"TLR5-SGD58":228},{"t":91250,"TLR5-SGD58":25},{"t":91500,"TLR5-SGD58":202},{"t":91750,"TLR5-SGD58":76},
      {"t":92000,"TLR5-SGD58":226},{"t":92250,"TLR5-SGD58":75},{"t":92500,"TLR5-SGD58":200},{"t":92750,"TLR5-SGD58":24},{"t":93000,"TLR5-SGD58":225},{"t":93250,"TLR5-SGD58":78},{"t":93500,"TLR5-SGD58":228},{"t":93750,"TLR5-SGD58":75},
      {"t":94000,"TLR5-SGD58":200},{"t":94250,"TLR5-SGD58":25},{"t":94500,"TLR5-SGD58":226},{"t":94750,"TLR5-SGD58":76},{"t":95000,"TLR5-SGD58":202},{"t":95250,"TLR5-SGD58":75},{"t":95500,"TLR5-SGD58":226},{"t":95750,"TLR5-SGD58":20},
      {"t":96000,"TLR5-SGD58":228},{"t":96250,"TLR5-SGD58":22},{"t":96500,"TLR5-SGD58":225},{"t":96750,"TLR5-SGD58":20},{"t":97000,"TLR5-SGD58":226},{"t":97250,"TLR5-SGD58":22},{"t":97500,"TLR5-SGD58":224},{"t":97750,"TLR5-SGD58":20},
      {"t":98000,"TLR5-SGD58":228},{"t":98250,"TLR5-SGD58":95},{"t":98500,"TLR5-SGD58":200},{"t":98750,"TLR5-SGD58":92},{"t":99000,"TLR5-SGD58":230},{"t":99250,"TLR5-SGD58":25},{"t":99500,"TLR5-SGD58":228},{"t":99750,"TLR5-SGD58":95},
      {"t":100000,"TLR5-SGD58":230}
    ]
  },
  "columns": 2,
  "spacing": {"row": 141, "column": 213},
  "bounds": "flush",
  "resolve": {"scale": {"color": "independent"}, "legend": {"color": "independent"}},
  "concat": [
    {
      "width": 1429,
      "height": 647,
      "layer": [
        {
          "data": {"name": "rmsd"},
          "transform": [{"fold": ["TLR5", "SGD58"], "as": ["series", "rmsd"]}],
          "mark": {"type": "line", "strokeWidth": 8, "clip": true},
          "encoding": {
            "x": {
              "field": "t", "type": "quantitative",
              "scale": {"domain": [0, 100000], "nice": false},
              "axis": {
                "orient": "bottom",
                "values": [0, 10000, 20000, 30000, 40000, 50000, 60000, 70000, 80000, 90000, 100000],
                "format": "d",
                "labelExpr": "datum.value === 100000 ? '1000' : (datum.value % 20000 === 0 ? datum.label : '')",
                "tickSize": {"condition": {"test": "datum.value % 20000 === 0", "value": 17}, "value": 9},
                "labelFont": "Liberation Serif", "labelFontWeight": "bold", "labelFontSize": 36, "labelPadding": 12,
                "title": "Time (ps)", "titleFont": "Liberation Serif", "titleFontSize": 42, "titlePadding": 7
              }
            },
            "y": {
              "field": "rmsd", "type": "quantitative",
              "scale": {"domain": [0, 5], "nice": false},
              "axis": {
                "orient": "left",
                "values": [0, 0.5, 1, 1.5, 2, 2.5, 3, 3.5, 4, 4.5, 5],
                "format": "d",
                "labelExpr": "datum.value % 1 === 0 ? datum.label : ''",
                "tickSize": {"condition": {"test": "datum.value % 1 === 0", "value": 17}, "value": 9},
                "labelFont": "Liberation Serif", "labelFontWeight": "bold", "labelFontSize": 36, "labelPadding": 12,
                "title": "RMSD (nm)", "titleFont": "Liberation Sans", "titleFontSize": 40, "titlePadding": 43
              }
            },
            "color": {
              "field": "series", "type": "nominal",
              "scale": {"domain": ["TLR5", "SGD58"], "range": ["#FF8000", "#22EE22"]},
              "legend": {
                "orient": "none", "legendX": 1100, "legendY": 6, "title": null,
                "direction": "vertical", "columns": 1,
                "symbolType": "M-1,0L5,0", "symbolSize": 1296, "symbolStrokeWidth": 8, "symbolOffset": -5,
                "labelFont": "Liberation Serif", "labelFontSize": 44, "labelColor": "black", "labelOffset": 72, "labelLimit": 0,
                "rowPadding": 12, "padding": 6, "strokeColor": "#777", "fillColor": "white"
              }
            }
          }
        },
        {
          "data": {"name": "one"},
          "mark": {"type": "text", "font": "Liberation Serif", "fontWeight": "bold", "fontSize": 80, "align": "left", "baseline": "alphabetic", "color": "black"},
          "encoding": {
            "x": {
              "datum": 1050, "type": "quantitative",
              "scale": {"domain": [0, 100000], "nice": false},
              "axis": {"orient": "top", "labels": false, "title": null, "domain": false, "offset": -17, "tickSize": 17,
                "values": [0, 20000, 40000, 60000, 80000, 100000]}
            },
            "y": {
              "datum": 4.312, "type": "quantitative",
              "scale": {"domain": [0, 5], "nice": false},
              "axis": {"orient": "right", "labels": false, "title": null, "domain": false, "offset": -17, "tickSize": 17,
                "values": [0, 1, 2, 3, 4, 5]}
            },
            "text": {"value": "A"}
          }
        },
        {
          "data": {"name": "one"},
          "mark": {"type": "text", "opacity": 0},
          "encoding": {
            "x": {
              "datum": 50000, "type": "quantitative",
              "scale": {"domain": [0, 100000], "nice": false},
              "axis": {"orient": "top", "labels": false, "title": null, "domain": false, "offset": -9, "tickSize": 9,
                "values": [10000, 30000, 50000, 70000, 90000]}
            },
            "y": {
              "datum": 2.5, "type": "quantitative",
              "scale": {"domain": [0, 5], "nice": false},
              "axis": {"orient": "right", "labels": false, "title": null, "domain": false, "offset": -9, "tickSize": 9,
                "values": [0.5, 1.5, 2.5, 3.5, 4.5]}
            },
            "text": {"value": ""}
          }
        }
      ],
      "resolve": {"axis": {"x": "independent", "y": "independent"}}
    },
    {
      "width": 1447,
      "height": 650,
      "layer": [
        {
          "data": {"name": "rmsfTLR5"},
          "transform": [{"fold": ["TLR5"], "as": ["series", "rmsf"]}],
          "mark": {"type": "line", "strokeWidth": 4.5, "clip": true},
          "encoding": {
            "x": {
              "field": "r", "type": "quantitative",
              "scale": {"domain": [0, 1000], "nice": false},
              "axis": {
                "orient": "bottom",
                "values": [0, 100, 200, 300, 400, 500, 600, 700, 800, 900, 1000],
                "format": "d",
                "labelExpr": "datum.value % 200 === 0 ? datum.label : ''",
                "tickSize": {"condition": {"test": "datum.value % 200 === 0", "value": 17}, "value": 9},
                "labelFont": "Liberation Sans", "labelFontSize": 35, "labelPadding": 14,
                "title": "Residues", "titleFont": "Liberation Serif", "titleFontSize": 42, "titlePadding": 5
              }
            },
            "y": {
              "field": "rmsf", "type": "quantitative",
              "scale": {"domain": [0.5, 3.25], "nice": false, "zero": false},
              "axis": {
                "orient": "left",
                "values": [0.5, 0.75, 1, 1.25, 1.5, 1.75, 2, 2.25, 2.5, 2.75, 3],
                "format": ".1f",
                "labelExpr": "(datum.value * 2) % 1 === 0 ? datum.label : ''",
                "tickSize": {"condition": {"test": "(datum.value * 2) % 1 === 0", "value": 17}, "value": 9},
                "labelFont": "Liberation Sans", "labelFontSize": 35, "labelPadding": 14,
                "title": "RMSF (nm)", "titleFont": "Liberation Sans", "titleFontSize": 40, "titlePadding": 43
              }
            },
            "color": {
              "field": "series", "type": "nominal",
              "scale": {"domain": ["TLR5"], "range": ["#DA40F5"]},
              "legend": {
                "orient": "none", "legendX": 1210, "legendY": 29, "title": null,
                "symbolType": "M-1,0L5,0", "symbolSize": 860, "symbolStrokeWidth": 7, "symbolOffset": -10,
                "labelFont": "Liberation Serif", "labelFontWeight": "bold", "labelFontSize": 36, "labelColor": "black", "labelOffset": 48, "labelLimit": 0,
                "padding": 10, "strokeColor": "black", "fillColor": "white"
              }
            }
          }
        },
        {
          "data": {"name": "one"},
          "mark": {"type": "text", "font": "Liberation Serif", "fontWeight": "bold", "fontSize": 80, "align": "left", "baseline": "alphabetic", "color": "black"},
          "encoding": {
            "x": {
              "datum": 9, "type": "quantitative",
              "scale": {"domain": [0, 1000], "nice": false},
              "axis": {"orient": "top", "labels": false, "title": null, "domain": false, "offset": -17, "tickSize": 17,
                "values": [0, 200, 400, 600, 800, 1000]}
            },
            "y": {
              "datum": 2.895, "type": "quantitative",
              "scale": {"domain": [0.5, 3.25], "nice": false, "zero": false},
              "axis": {"orient": "right", "labels": false, "title": null, "domain": false, "offset": -17, "tickSize": 17,
                "values": [0.5, 1, 1.5, 2, 2.5, 3]}
            },
            "text": {"value": "B"}
          }
        },
        {
          "data": {"name": "one"},
          "mark": {"type": "text", "opacity": 0},
          "encoding": {
            "x": {
              "datum": 500, "type": "quantitative",
              "scale": {"domain": [0, 1000], "nice": false},
              "axis": {"orient": "top", "labels": false, "title": null, "domain": false, "offset": -9, "tickSize": 9,
                "values": [100, 300, 500, 700, 900]}
            },
            "y": {
              "datum": 2, "type": "quantitative",
              "scale": {"domain": [0.5, 3.25], "nice": false, "zero": false},
              "axis": {"orient": "right", "labels": false, "title": null, "domain": false, "offset": -9, "tickSize": 9,
                "values": [0.75, 1.25, 1.75, 2.25, 2.75]}
            },
            "text": {"value": ""}
          }
        }
      ],
      "resolve": {"axis": {"x": "independent", "y": "independent"}}
    },
    {
      "width": 1418,
      "height": 640,
      "layer": [
        {
          "data": {"name": "rmsfSGD58"},
          "transform": [{"fold": ["SGD58"], "as": ["series", "rmsf"]}],
          "mark": {"type": "line", "strokeWidth": 4, "clip": true},
          "encoding": {
            "x": {
              "field": "r", "type": "quantitative",
              "scale": {"domain": [0, 350], "nice": false},
              "axis": {
                "orient": "bottom",
                "values": [0, 25, 50, 75, 100, 125, 150, 175, 200, 225, 250, 275, 300, 325, 350],
                "format": "d",
                "labelExpr": "datum.value % 50 === 0 ? datum.label : ''",
                "tickSize": {"condition": {"test": "datum.value % 50 === 0", "value": 17}, "value": 9},
                "labelFont": "Liberation Sans", "labelFontSize": 35, "labelPadding": 11,
                "title": "Residues", "titleFont": "Liberation Serif", "titleFontSize": 42, "titlePadding": 12
              }
            },
            "y": {
              "field": "rmsf", "type": "quantitative",
              "scale": {"domain": [0, 1.9], "nice": false},
              "axis": {
                "orient": "left",
                "values": [0, 0.1, 0.2, 0.3, 0.4, 0.5, 0.6, 0.7, 0.8, 0.9, 1, 1.1, 1.2, 1.3, 1.4, 1.5, 1.6, 1.7, 1.8],
                "format": ".1f",
                "labelExpr": "round(datum.value * 10) % 2 === 0 ? datum.label : ''",
                "tickSize": {"condition": {"test": "round(datum.value * 10) % 2 === 0", "value": 17}, "value": 9},
                "labelFont": "Liberation Sans", "labelFontSize": 35, "labelPadding": 12,
                "title": "RMSF (nm)", "titleFont": "Liberation Sans", "titleFontSize": 40, "titlePadding": 36
              }
            },
            "color": {
              "field": "series", "type": "nominal",
              "scale": {"domain": ["SGD58"], "range": ["#F0047F"]},
              "legend": {
                "orient": "none", "legendX": 1038, "legendY": 22, "title": null,
                "symbolType": "M-1,0L5,0", "symbolSize": 841, "symbolStrokeWidth": 7, "symbolOffset": -8,
                "labelFont": "Liberation Serif", "labelFontSize": 34, "labelColor": "black", "labelOffset": 52, "labelLimit": 0,
                "padding": 10, "strokeColor": "black", "fillColor": "white"
              }
            }
          }
        },
        {
          "data": {"name": "one"},
          "mark": {"type": "text", "font": "Liberation Serif", "fontWeight": "bold", "fontSize": 80, "align": "left", "baseline": "alphabetic", "color": "black"},
          "encoding": {
            "x": {
              "datum": 5.4, "type": "quantitative",
              "scale": {"domain": [0, 350], "nice": false},
              "axis": {"orient": "top", "labels": false, "title": null, "domain": false, "offset": -17, "tickSize": 17,
                "values": [0, 50, 100, 150, 200, 250, 300, 350]}
            },
            "y": {
              "datum": 1.633, "type": "quantitative",
              "scale": {"domain": [0, 1.9], "nice": false},
              "axis": {"orient": "right", "labels": false, "title": null, "domain": false, "offset": -17, "tickSize": 17,
                "values": [0, 0.2, 0.4, 0.6, 0.8, 1, 1.2, 1.4, 1.6, 1.8]}
            },
            "text": {"value": "C"}
          }
        },
        {
          "data": {"name": "one"},
          "mark": {"type": "text", "opacity": 0},
          "encoding": {
            "x": {
              "datum": 175, "type": "quantitative",
              "scale": {"domain": [0, 350], "nice": false},
              "axis": {"orient": "top", "labels": false, "title": null, "domain": false, "offset": -9, "tickSize": 9,
                "values": [25, 75, 125, 175, 225, 275, 325]}
            },
            "y": {
              "datum": 1, "type": "quantitative",
              "scale": {"domain": [0, 1.9], "nice": false},
              "axis": {"orient": "right", "labels": false, "title": null, "domain": false, "offset": -9, "tickSize": 9,
                "values": [0.1, 0.3, 0.5, 0.7, 0.9, 1.1, 1.3, 1.5, 1.7]}
            },
            "text": {"value": ""}
          }
        }
      ],
      "resolve": {"axis": {"x": "independent", "y": "independent"}}
    },
    {
      "width": 1449,
      "height": 649,
      "layer": [
        {
          "data": {"name": "hbonds"},
          "transform": [{"fold": ["TLR5-SGD58"], "as": ["series", "hb"]}],
          "mark": {"type": "line", "strokeWidth": 6, "clip": true},
          "encoding": {
            "x": {
              "field": "t", "type": "quantitative",
              "scale": {"domain": [0, 100000], "nice": false},
              "axis": {
                "orient": "bottom",
                "values": [0, 20000, 40000, 60000, 80000, 100000],
                "labels": false,
                "tickSize": 17,
                "title": "Time (ps)", "titleFont": "Liberation Serif", "titleFontSize": 42, "titlePadding": 34
              }
            },
            "y": {
              "field": "hb", "type": "quantitative",
              "scale": {"domain": [0, 273], "nice": false},
              "axis": {
                "orient": "left",
                "values": [0, 25, 50, 75, 100, 125, 150, 175, 200, 225, 250],
                "format": "d",
                "labelExpr": "datum.value % 50 === 0 ? datum.label : ''",
                "tickSize": {"condition": {"test": "datum.value % 50 === 0", "value": 17}, "value": 9},
                "labelFont": "Liberation Serif", "labelFontWeight": "bold", "labelFontSize": 36, "labelPadding": 15,
                "title": "Number of H bonds (nm)", "titleFont": "Liberation Sans", "titleFontSize": 40, "titlePadding": 46
              }
            },
            "color": {
              "field": "series", "type": "nominal",
              "scale": {"domain": ["TLR5-SGD58"], "range": ["#FF00FF"]},
              "legend": {
                "orient": "none", "legendX": 1030, "legendY": 2, "title": null,
                "symbolType": "M-1,0L5,0", "symbolSize": 1000, "symbolStrokeWidth": 8, "symbolOffset": 5,
                "labelFont": "Liberation Serif", "labelFontWeight": "bold", "labelFontSize": 40, "labelColor": "black", "labelOffset": 107, "labelLimit": 0,
                "padding": 7, "strokeColor": "black", "fillColor": "white"
              }
            }
          }
        },
        {
          "data": {"name": "one"},
          "mark": {"type": "text", "font": "Liberation Serif", "fontWeight": "bold", "fontSize": 80, "align": "left", "baseline": "alphabetic", "color": "black"},
          "encoding": {
            "x": {
              "datum": 1242, "type": "quantitative",
              "scale": {"domain": [0, 100000], "nice": false},
              "axis": {"orient": "top", "labels": false, "title": null, "domain": false, "offset": -17, "tickSize": 17,
                "values": [0, 20000, 40000, 60000, 80000, 100000]}
            },
            "y": {
              "datum": 238.1, "type": "quantitative",
              "scale": {"domain": [0, 273], "nice": false},
              "axis": {"orient": "right", "labels": false, "title": null, "domain": false, "offset": -17, "tickSize": 17,
                "values": [0, 50, 100, 150, 200, 250]}
            },
            "text": {"value": "D"}
          }
        },
        {
          "data": {"name": "one"},
          "mark": {"type": "text", "opacity": 0},
          "encoding": {
            "x": {
              "datum": 50000, "type": "quantitative",
              "scale": {"domain": [0, 100000], "nice": false},
              "axis": {"orient": "top", "labels": false, "title": null, "domain": false, "offset": -9, "tickSize": 9,
                "values": [10000, 30000, 50000, 70000, 90000]}
            },
            "y": {
              "datum": 125, "type": "quantitative",
              "scale": {"domain": [0, 273], "nice": false},
              "axis": {"orient": "right", "labels": false, "title": null, "domain": false, "offset": -9, "tickSize": 9,
                "values": [25, 75, 125, 175, 225]}
            },
            "text": {"value": ""}
          }
        }
      ],
      "resolve": {"axis": {"x": "independent", "y": "independent"}}
    }
  ],
  "config": {
    "view": {"stroke": "#222", "strokeWidth": 4},
    "axis": {
      "grid": false,
      "domainColor": "#222",
      "domainWidth": 4,
      "tickColor": "#222",
      "tickWidth": 3,
      "labelOverlap": false,
      "labelFlush": false,
      "labelBound": false,
      "labelColor": "#111",
      "titleColor": "#000",
      "titleFontWeight": "bold"
    },
    "legend": {"strokeWidth": 2}
  }
}
